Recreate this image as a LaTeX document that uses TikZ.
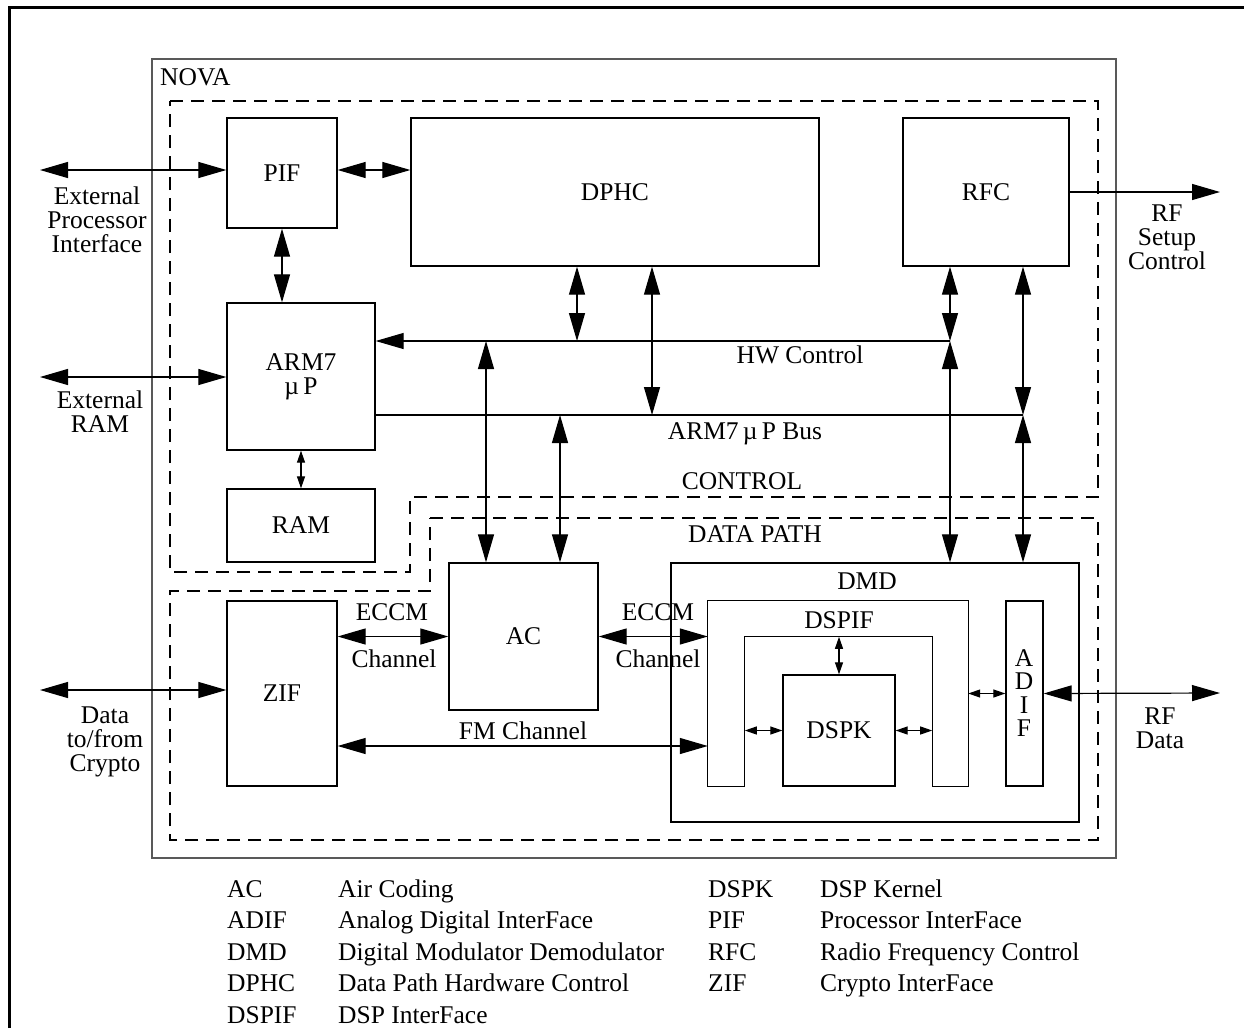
\documentclass[tikz,border=0pt]{standalone}
\usepackage{fontspec}
\setmainfont{Liberation Serif}
\usetikzlibrary{arrows.meta,fit}

\begin{document}
\begin{tikzpicture}[
    x=1pt, y=-1pt,
    font=\fontsize{25.5}{24}\selectfont,
    box/.style={draw, line width=1.3pt, inner sep=0pt},
    area/.style={line width=1.2pt, dash pattern=on 13pt off 8pt},
    lbl/.style={inner sep=0pt, align=center},
    link/.style={line width=1.2pt},
    bi/.style={link, >={Triangle[length=28pt,width=16pt]}, <->},
    sbi/.style={link, >={Triangle[length=12pt,width=8pt]}, <->},
    flow/.style={link, >={Triangle[length=28pt,width=16pt]}, ->}
]
\useasboundingbox (0,0) rectangle (1244,1028);
\draw[line width=3pt] (9,1028) -- (9,7) -- (1244,7);

\node[box, draw=black!65, line width=1.5pt, fit={(152,59) (1116,858)}] (nova) {};
\node[lbl, anchor=west] (novalbl) at (160,77) {NOVA};

\draw[area] (170,101) -- (1098,101) -- (1098,497) -- (410,497) -- (410,572) -- (170,572) -- cycle;
\draw[area] (430,518) -- (1098,518) -- (1098,840) -- (170,840) -- (170,591) -- (430,591) -- cycle;
\node[lbl] (ctrllbl) at (742,481) {CONTROL};
\node[lbl] (dplbl) at (755,534) {DATA PATH};

\node[box, fit={(227,118) (337,228)}, label={[lbl]center:PIF}] (pif) {};
\node[box, fit={(411,118) (819,266)}, label={[lbl]center:DPHC}] (dphc) {};
\node[box, fit={(903,118) (1069,266)}, label={[lbl]center:RFC}] (rfc) {};
\node[box, fit={(227,303) (375,450)}, label={[lbl]center:ARM7\\µ\,P}] (arm) {};
\node[box, fit={(227,489) (375,562)}, label={[lbl]center:RAM}] (ram) {};
\node[box, fit={(227,601) (337,786)}, label={[lbl]center:ZIF}] (zif) {};
\node[box, fit={(449,563) (598,710)}, label={[lbl]center:AC}] (ac) {};
\node[box, fit={(671,563) (1079,822)}] (dmd) {};
\node[lbl] (dmdlbl) at (867,581) {DMD};
\node[inner sep=0pt, fit={(708,601) (968,786)}] (dspif) {};
\node[inner sep=0pt, fit={(745,637) (932,786)}] (dspifin) {};
\draw[line width=1.3pt] (dspif.south west) |- (dspif.north east) -- (dspif.south east)
    -- (dspifin.south east) |- (dspifin.north west) -- (dspifin.south west) -- cycle;
\node[lbl] (dspiflbl) at (839,620) {DSPIF};
\node[box, fit={(783,675) (895,786)}, label={[lbl]center:DSPK}] (dspk) {};
\node[box, fit={(1006,601) (1043,786)}] (adif) {};
\node[lbl, font=\fontsize{25.5}{23.5}\selectfont] (adiflbl) at (1024,693) {A\\D\\I\\F};

\coordinate (epi) at (40,170);
\coordinate (eram) at (40,377);
\coordinate (dcr) at (40,690);
\coordinate (rfs) at (1220,192);
\coordinate (rfd) at (1220,693);
\coordinate (hwa) at (577,341);
\coordinate (hwb) at (486,341);
\coordinate (hwr) at (950,341);
\coordinate (busa) at (652,415);
\coordinate (busb) at (560,415);
\coordinate (busr) at (1023,415);
\coordinate (fmy) at (0,746);

\draw[bi] (epi) -- (pif.west |- epi);
\draw[bi] (pif.east |- epi) -- (dphc.west |- epi);
\draw[bi] (pif.south) -- (pif.south |- arm.north);
\draw[bi] (eram) -- (arm.west |- eram);
\draw[sbi] (arm.south) -- (ram.north);
\draw[flow] (hwr) -- (arm.east |- hwr);
\draw[link] (arm.east |- busr) -- (busr);
\draw[bi] (dphc.south -| hwa) -- (hwa);
\draw[bi] (dphc.south -| busa) -- (busa);
\draw[bi] (rfc.south -| hwr) -- (hwr);
\draw[bi] (rfc.south -| busr) -- (busr);
\draw[bi] (hwb) -- (ac.north -| hwb);
\draw[bi] (busb) -- (ac.north -| busb);
\draw[bi] (hwr) -- (dmd.north -| hwr);
\draw[bi] (busr) -- (dmd.north -| busr);
\draw[flow] (rfc.east) -- (rfs);
\draw[bi] (dcr) -- (zif.west |- dcr);
\draw[bi] (zif.east |- ac.west) -- (ac.west);
\draw[bi] (ac.east) -- (dspif.west |- ac.east);
\draw[bi] (zif.east |- fmy) -- (dspif.west |- fmy);
\draw[sbi] (dspk.north) -- (dspk.north |- dspifin.north);
\draw[sbi] (dspifin.west |- dspk.west) -- (dspk.west);
\draw[sbi] (dspk.east) -- (dspifin.east |- dspk.east);
\draw[sbi] (dspif.east |- adif.west) -- (adif.west);
\draw[bi] (adif.east) -- (rfd);

\node[lbl] (epilbl) at (97,220) {External\\Processor\\Interface};
\node[lbl] (eramlbl) at (100,412) {External\\RAM};
\node[lbl] (dcrlbl) at (105,742) {Data\\to/from\\Crypto};
\node[lbl] (rfslbl) at (1167,237) {RF\\Setup\\Control};
\node[lbl] (rfdlbl) at (1160,728) {RF\\Data};
\node[lbl] (hwlbl) at (800,355) {HW Control};
\node[lbl] (buslbl) at (745,434) {ARM7\,µ\,P Bus};
\node[lbl] (eccm1) at (392,612) {ECCM};
\node[lbl] (chan1) at (394,659) {Channel};
\node[lbl] (eccm2) at (658,612) {ECCM};
\node[lbl] (chan2) at (658,659) {Channel};
\node[lbl] (fmlbl) at (523,731) {FM Channel};

\foreach \ab/\txt [count=\i] in {AC/Air Coding, ADIF/Analog Digital InterFace,
    DMD/Digital Modulator Demodulator, DPHC/Data Path Hardware Control, DSPIF/DSP InterFace} {
  \node[inner sep=0pt, anchor=base west] (keya\i) at (227,{897+31.5*(\i-1)}) {\ab};
  \node[inner sep=0pt, anchor=base west] (desca\i) at (338,{897+31.5*(\i-1)}) {\txt};
}
\foreach \ab/\txt [count=\i] in {DSPK/DSP Kernel, PIF/Processor InterFace,
    RFC/Radio Frequency Control, ZIF/Crypto InterFace} {
  \node[inner sep=0pt, anchor=base west] (keyb\i) at (708,{897+31.5*(\i-1)}) {\ab};
  \node[inner sep=0pt, anchor=base west] (descb\i) at (820,{897+31.5*(\i-1)}) {\txt};
}
\end{tikzpicture}
\end{document}
